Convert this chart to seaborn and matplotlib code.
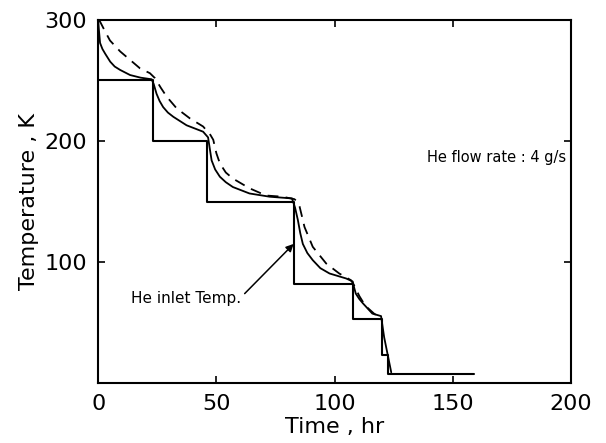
import numpy as np
import pandas as pd
import matplotlib
matplotlib.use("Agg")
import matplotlib.pyplot as plt
import seaborn as sns

# Température d'entrée He (escaliers)
inlet_time = [0, 23, 46, 83, 108, 120, 122.5, 159]
inlet_temp = [250, 200, 150, 82, 53, 23, 8, 8]

# Courbe pleine
solid_time = [0, 0.3, 0.8, 1.8, 3, 5.1, 7, 9.3, 13.5, 18, 22.6,
              23.5, 24.7, 26, 27.5, 29.5, 31.8, 37.4, 44.4, 46.5,
              47.2, 48, 49.5, 51.5, 54, 57, 64, 72.6, 82,
              83.3, 84.5, 85.5, 86.6, 88.5, 90.8, 94, 97.9, 104.9, 107.7,
              108.3, 109, 110.5, 112, 116, 119.7, 121, 124]
solid_temp = [300, 292, 281, 276, 272, 265.5, 261.5, 258.7, 254.5, 252.3, 251,
              247, 239, 233, 228, 223.5, 220, 213, 207.7, 203,
              194, 184, 176.5, 170.5, 166, 162, 156.7, 154, 152.6,
              145, 134.7, 124, 115, 107.5, 101.6, 95, 90.6, 86.5, 84,
              79, 74, 69.5, 66, 57.5, 55.4, 38, 9]

# Courbe pointillée
dash_time = [0, 0.8, 2.8, 5, 9.3, 13.5, 17.7, 21.9, 24,
             26.5, 29, 33.2, 38.8, 44.4, 47.5, 48.7,
             50, 51.5, 54, 57, 64, 71, 78, 83,
             84.3, 85.2, 86.2, 87.3, 90.8, 96.5, 102, 107,
             108.5, 110.5, 113, 117, 120]
dash_temp = [300, 298.6, 291, 283, 274, 267, 260, 256, 252,
             244, 236.6, 227, 218.7, 212, 205, 201,
             190, 181.5, 174, 169, 161, 155, 154, 152,
             150, 146, 138, 129, 112.6, 98.8, 90.6, 85,
             80, 72, 64, 57, 54]

sns.set_style("ticks")
plt.rcParams['font.family'] = ['DejaVu Sans']
plt.rcParams['text.color'] = 'black'
plt.rcParams['axes.labelcolor'] = 'black'
plt.rcParams['xtick.color'] = 'black'
plt.rcParams['ytick.color'] = 'black'

fig = plt.figure(figsize=(6.06, 4.43), dpi=100)
ax = fig.add_axes([0.162, 0.135, 0.780, 0.820])

sns.lineplot(x=inlet_time, y=inlet_temp, ax=ax, color="black", lw=1.5,
             drawstyle="steps-post", estimator=None)
sns.lineplot(x=solid_time, y=solid_temp, ax=ax, color="black", lw=1.3,
             estimator=None)
sns.lineplot(x=dash_time, y=dash_temp, ax=ax, color="black", lw=1.3,
             linestyle=(0, (6, 4)), estimator=None)

ax.set_xlim(0, 200)
ax.set_ylim(0, 300)
ax.set_xticks([0, 50, 100, 150, 200])
ax.set_yticks([100, 200, 300])
ax.tick_params(direction="in", length=5, width=1.2, top=True, right=True,
               labelsize=16, pad=8)
for s in ax.spines.values():
    s.set_linewidth(1.5)
    s.set_color("black")

ax.set_xlabel("Time , hr", fontsize=16, labelpad=2)
ax.set_ylabel("Temperature , K", fontsize=16, labelpad=4)

ax.text(139, 186, "He flow rate : 4 g/s", fontsize=10.5, va="center")
ax.annotate("He inlet Temp.", xy=(82.7, 115), xytext=(14, 70),
            fontsize=11, va="center",
            arrowprops=dict(arrowstyle="-|>", color="black", lw=1.1,
                            shrinkA=0, shrinkB=0,
                            relpos=(1.0, 0.6)))

fig.savefig("out.png", dpi=100)
